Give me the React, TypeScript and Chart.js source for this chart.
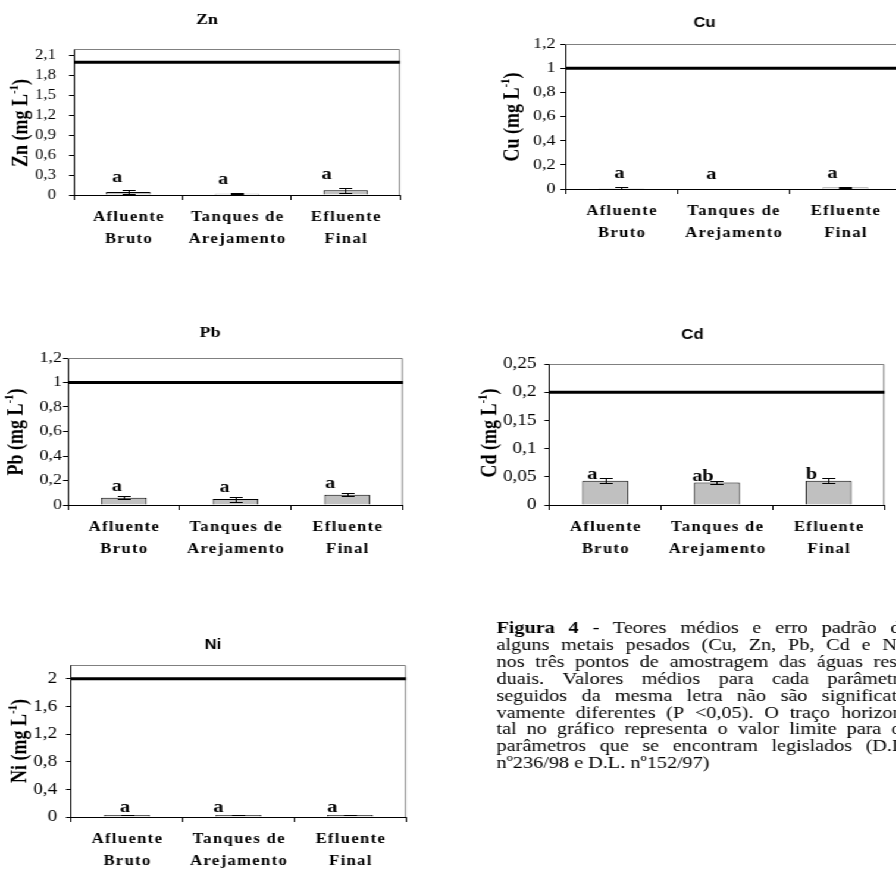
import React, { useEffect, useRef } from "react";
import { Chart, registerables } from "chart.js";

Chart.register(...registerables);
Chart.defaults.color = "#000";

// ---------------- data ----------------
const categories = [
  ["Afluente", "Bruto"],
  ["Tanques de", "Arejamento"],
  ["Efluente", "Final"],
];

const znMeans = [0.045, 0.02, 0.07];
const znErrors = [0.025, 0.012, 0.04];
const znLetters = ["a", "a", "a"];
const znTicks = [0, 0.3, 0.6, 0.9, 1.2, 1.5, 1.8, 2.1];
const znMax = 2.2;
const znLimit = 2;

const cuMeans = [0.003, 0, 0.012];
const cuErrors = [0.01, 0, 0.002];
const cuLetters = ["a", "a", "a"];
const cuTicks = [0, 0.2, 0.4, 0.6, 0.8, 1, 1.2];
const cuMax = 1.2;
const cuLimit = 1;

const pbMeans = [0.06, 0.048, 0.083];
const pbErrors = [0.011, 0.02, 0.012];
const pbLetters = ["a", "a", "a"];
const pbTicks = [0, 0.2, 0.4, 0.6, 0.8, 1, 1.2];
const pbMax = 1.2;
const pbLimit = 1;

const cdMeans = [0.043, 0.04, 0.043];
const cdErrors = [0.004, 0.003, 0.004];
const cdLetters = ["a", "ab", "b"];
const cdTicks = [0, 0.05, 0.1, 0.15, 0.2, 0.25];
const cdMax = 0.25;
const cdLimit = 0.2;

const niMeans = [0.03, 0.03, 0.03];
const niErrors = [0.005, 0.003, 0.003];
const niLetters = ["a", "a", "a"];
const niTicks = [0, 0.4, 0.8, 1.2, 1.6, 2];
const niMax = 2.2;
const niLimit = 2;

const captionLines = [
  "Figura 4 - Teores médios e erro padrão de",
  "alguns metais pesados (Cu, Zn, Pb, Cd e Ni)",
  "nos três pontos de amostragem das águas resi-",
  "duais. Valores médios para cada parâmetro",
  "seguidos da mesma letra não são significati-",
  "vamente diferentes (P <0,05). O traço horizon-",
  "tal no gráfico representa o valor limite para os",
  "parâmetros que se encontram legislados (D.L.",
  "nº236/98 e D.L. nº152/97)",
];

// ---------------- layout ----------------
const S = 1.19; // horizontal stretch of the reference picture
const SERIF = '"Liberation Serif", "Times New Roman", serif';
const SANS = '"Liberation Sans", Arial, sans-serif';

// caption block (final-picture coordinates)
const CAP = { x: 497, colRight: 910, firstBaseline: 633, lineStep: 16.9, size: 17 };

type Panel = {
  metal: string;
  serifTitle: boolean;
  means: number[];
  errors: number[];
  letters: string[];
  ticks: number[];
  max: number;
  limit: number;
  box: { x: number; y: number; w: number; h: number };
  plot: { l: number; r: number; t: number; b: number };
  titlePos: { x: number; y: number };
  yTitlePos: { x: number; y: number };
  labelRight: number;
  tickFont: number;
  letterDx: number[];
  letterDy: number;
  caption?: boolean;
};

const panels: Panel[] = [
  {
    metal: "Zn", serifTitle: true, means: znMeans, errors: znErrors, letters: znLetters,
    ticks: znTicks, max: znMax, limit: znLimit,
    box: { x: 0, y: 0, w: 448, h: 250 },
    plot: { l: 74, r: 400, t: 49, b: 195 },
    titlePos: { x: 207, y: 20 }, yTitlePos: { x: 21, y: 123 },
    labelRight: 56, tickFont: 14, letterDx: [-11, -14, -19], letterDy: 13,
  },
  {
    metal: "Cu", serifTitle: false, means: cuMeans, errors: cuErrors, letters: cuLetters,
    ticks: cuTicks, max: cuMax, limit: cuLimit,
    box: { x: 448, y: 0, w: 470, h: 250 },
    plot: { l: 566, r: 902, t: 44, b: 189 },
    titlePos: { x: 705, y: 23 }, yTitlePos: { x: 513, y: 117 },
    labelRight: 556, tickFont: 15, letterDx: [-2, -22, -13], letterDy: 14,
  },
  {
    metal: "Pb", serifTitle: true, means: pbMeans, errors: pbErrors, letters: pbLetters,
    ticks: pbTicks, max: pbMax, limit: pbLimit,
    box: { x: 0, y: 290, w: 448, h: 290 },
    plot: { l: 68, r: 403, t: 358, b: 505 },
    titlePos: { x: 210, y: 333 }, yTitlePos: { x: 16, y: 432 },
    labelRight: 62, tickFont: 15, letterDx: [-7, -11, -17], letterDy: 9.5,
  },
  {
    metal: "Cd", serifTitle: false, means: cdMeans, errors: cdErrors, letters: cdLetters,
    ticks: cdTicks, max: cdMax, limit: cdLimit,
    box: { x: 448, y: 290, w: 470, h: 579 },
    plot: { l: 550, r: 885, t: 364, b: 505 },
    titlePos: { x: 693, y: 335 }, yTitlePos: { x: 490, y: 433 },
    labelRight: 537, tickFont: 16, letterDx: [-13, -14, -17], letterDy: 4,
    caption: true,
  },
  {
    metal: "Ni", serifTitle: false, means: niMeans, errors: niErrors, letters: niLetters,
    ticks: niTicks, max: niMax, limit: niLimit,
    box: { x: 0, y: 620, w: 448, h: 249 },
    plot: { l: 71, r: 406, t: 665, b: 817 },
    titlePos: { x: 213, y: 645 }, yTitlePos: { x: 19, y: 741 },
    labelRight: 57, tickFont: 16, letterDx: [-2, -20, -18], letterDy: 7,
  },
];

function drawCaption(ctx: CanvasRenderingContext2D, ox: number, oy: number) {
  ctx.save();
  ctx.fillStyle = "#000";
  ctx.textBaseline = "alphabetic";
  ctx.textAlign = "left";
  (ctx as any).letterSpacing = "0px";
  const left = (CAP.x - ox) / S;
  const colW = (CAP.colRight - CAP.x) / S;
  const reg = `${CAP.size}px ${SERIF}`;
  const bold = `bold ${CAP.size}px ${SERIF}`;
  ctx.font = reg;
  const space = ctx.measureText(" ").width;
  captionLines.forEach((line, i) => {
    const words = line.split(" ");
    const fonts = words.map((_, k) => (i === 0 && k < 2 ? bold : reg));
    const widths = words.map((w, k) => {
      ctx.font = fonts[k];
      return ctx.measureText(w).width;
    });
    const total = widths.reduce((s, v) => s + v, 0);
    const last = i === captionLines.length - 1;
    const gap = last ? space : Math.max(space * 0.8, (colW - total) / (words.length - 1));
    let x = left;
    const y = CAP.firstBaseline - oy + i * CAP.lineStep;
    words.forEach((w, k) => {
      ctx.font = fonts[k];
      ctx.fillText(w, x, y);
      x += widths[k] + gap;
    });
  });
  ctx.restore();
}

function PanelChart({ p }: { p: Panel }) {
  const ref = useRef<HTMLCanvasElement>(null);
  const cw = Math.round(p.box.w / S);
  const ch = p.box.h;

  useEffect(() => {
    const canvas = ref.current;
    if (!canvas) return;
    const L = (p.plot.l - p.box.x) / S;
    const R = (p.plot.r - p.box.x) / S;
    const T = p.plot.t - p.box.y;
    const B = p.plot.b - p.box.y;
    const tickLen = 5 / S;
    const pad = Math.max(0, (p.plot.l - p.labelRight) / S - tickLen);

    const decor = {
      id: "decor",
      afterDatasetsDraw(chart: any) {
        const { ctx, chartArea: a, scales } = chart;
        const x = scales.x;
        const y = scales.y;
        ctx.save();
        // plot frame (top & right)
        ctx.strokeStyle = "#808080";
        ctx.lineWidth = 1;
        ctx.beginPath();
        ctx.moveTo(a.left, Math.round(a.top) + 0.5);
        ctx.lineTo(a.right - 0.5, Math.round(a.top) + 0.5);
        ctx.lineTo(a.right - 0.5, a.bottom);
        ctx.stroke();

        // limit line
        const ly = y.getPixelForValue(p.limit);
        ctx.strokeStyle = "#000";
        ctx.lineWidth = 3;
        ctx.beginPath();
        ctx.moveTo(a.left, ly);
        ctx.lineTo(a.right, ly);
        ctx.stroke();

        // error bars
        ctx.save();
        ctx.beginPath();
        ctx.rect(a.left, a.top, a.right - a.left, a.bottom - a.top);
        ctx.clip();
        ctx.lineWidth = 1;
        ctx.strokeStyle = "#000";
        const cap = 13 / S / 2;
        p.means.forEach((m, i) => {
          const e = p.errors[i];
          if (!e) return;
          const cx = Math.round(x.getPixelForValue(i)) + 0.5;
          const yt = Math.round(y.getPixelForValue(m + e)) + 0.5;
          const yb = Math.round(y.getPixelForValue(m - e)) + 0.5;
          ctx.beginPath();
          ctx.moveTo(cx, yt);
          ctx.lineTo(cx, yb);
          ctx.moveTo(cx - cap, yt);
          ctx.lineTo(cx + cap, yt);
          ctx.moveTo(cx - cap, yb);
          ctx.lineTo(cx + cap, yb);
          ctx.stroke();
        });
        ctx.restore();

        ctx.fillStyle = "#000";
        ctx.textAlign = "center";
        ctx.textBaseline = "middle";

        // significance letters
        ctx.font = `bold 17px ${SERIF}`;
        p.letters.forEach((l, i) => {
          const lx = x.getPixelForValue(i) + p.letterDx[i] / S;
          const lyy = y.getPixelForValue(p.means[i] + p.errors[i]) - p.letterDy;
          ctx.fillText(l, lx, lyy);
        });

        // category labels
        ctx.font = `bold 14px ${SERIF}`;
        (ctx as any).letterSpacing = "1.1px";
        categories.forEach((lines, i) => {
          const cx = x.getPixelForValue(i) + 0.55;
          lines.forEach((t, k) => ctx.fillText(t, cx, a.bottom + 22 + 22 * k));
        });
        (ctx as any).letterSpacing = "0px";

        // chart title
        ctx.font = p.serifTitle ? `bold 15px ${SERIF}` : `bold 14px ${SANS}`;
        ctx.fillText(p.metal, (p.titlePos.x - p.box.x) / S, p.titlePos.y - p.box.y);

        // y axis title with superscript
        ctx.save();
        ctx.translate((p.yTitlePos.x - p.box.x) / S, p.yTitlePos.y - p.box.y);
        ctx.rotate(-Math.PI / 2);
        const mainF = `bold 18px ${SERIF}`;
        const supF = `bold 11px ${SERIF}`;
        const parts: [string, string, number][] = [
          [`${p.metal} (mg L`, mainF, 0],
          ["-1", supF, -6],
          [")", mainF, 0],
        ];
        let total = 0;
        parts.forEach(([t, f]) => {
          ctx.font = f;
          total += ctx.measureText(t).width;
        });
        let px = -total / 2;
        ctx.textAlign = "left";
        parts.forEach(([t, f, dy]) => {
          ctx.font = f;
          ctx.fillText(t, px, dy + 1);
          px += ctx.measureText(t).width;
        });
        ctx.restore();

        ctx.restore();

        if (p.caption) drawCaption(ctx, p.box.x, p.box.y);
      },
    };

    const chart = new Chart(canvas, {
      type: "bar",
      data: {
        labels: categories.map((c) => c.join(" ")),
        datasets: [
          {
            data: p.means,
            backgroundColor: "#c0c0c0",
            borderColor: "#000",
            borderWidth: 1,
            barPercentage: 0.41,
            categoryPercentage: 1,
          },
        ],
      },
      options: {
        responsive: false,
        animation: false,
        devicePixelRatio: 1,
        layout: { padding: { left: 0, top: T, right: cw - R, bottom: 0 } },
        plugins: { legend: { display: false }, tooltip: { enabled: false }, title: { display: false } },
        scales: {
          x: {
            type: "category",
            offset: true,
            grid: {
              display: true,
              offset: true,
              drawOnChartArea: false,
              drawTicks: true,
              tickLength: 5,
              color: "#000",
            },
            border: { display: true, color: "#000", width: 1 },
            ticks: { display: false },
            afterFit: (s: any) => {
              s.height = ch - B;
            },
          },
          y: {
            type: "linear",
            min: 0,
            max: p.max,
            grid: {
              display: true,
              drawOnChartArea: false,
              drawTicks: true,
              tickLength: tickLen,
              color: "#000",
            },
            border: { display: true, color: "#000", width: 1 },
            ticks: {
              autoSkip: false,
              padding: pad,
              color: "#000",
              font: { family: SERIF, size: p.tickFont },
              callback: (v: any) => String(v).replace(".", ","),
            },
            afterBuildTicks: (s: any) => {
              s.ticks = p.ticks.map((v) => ({ value: v }));
            },
            afterFit: (s: any) => {
              s.width = L;
            },
          },
        },
      },
      plugins: [decor],
    } as any);
    return () => chart.destroy();
  }, [p]);

  return (
    <canvas
      ref={ref}
      width={cw}
      height={ch}
      style={{
        position: "absolute",
        left: p.box.x / S,
        top: p.box.y,
        width: cw,
        height: ch,
      }}
    />
  );
}

export default function App() {
  return (
    <div
      style={{
        position: "fixed",
        left: 0,
        top: 0,
        width: 896,
        height: 869,
        overflow: "hidden",
        background: "#fff",
      }}
    >
      <div
        style={{
          position: "absolute",
          left: 0,
          top: 0,
          width: 896 / S,
          height: 869,
          transform: `scaleX(${S})`,
          transformOrigin: "0 0",
        }}
      >
        {panels.map((p) => (
          <PanelChart key={p.metal} p={p} />
        ))}
      </div>
    </div>
  );
}
